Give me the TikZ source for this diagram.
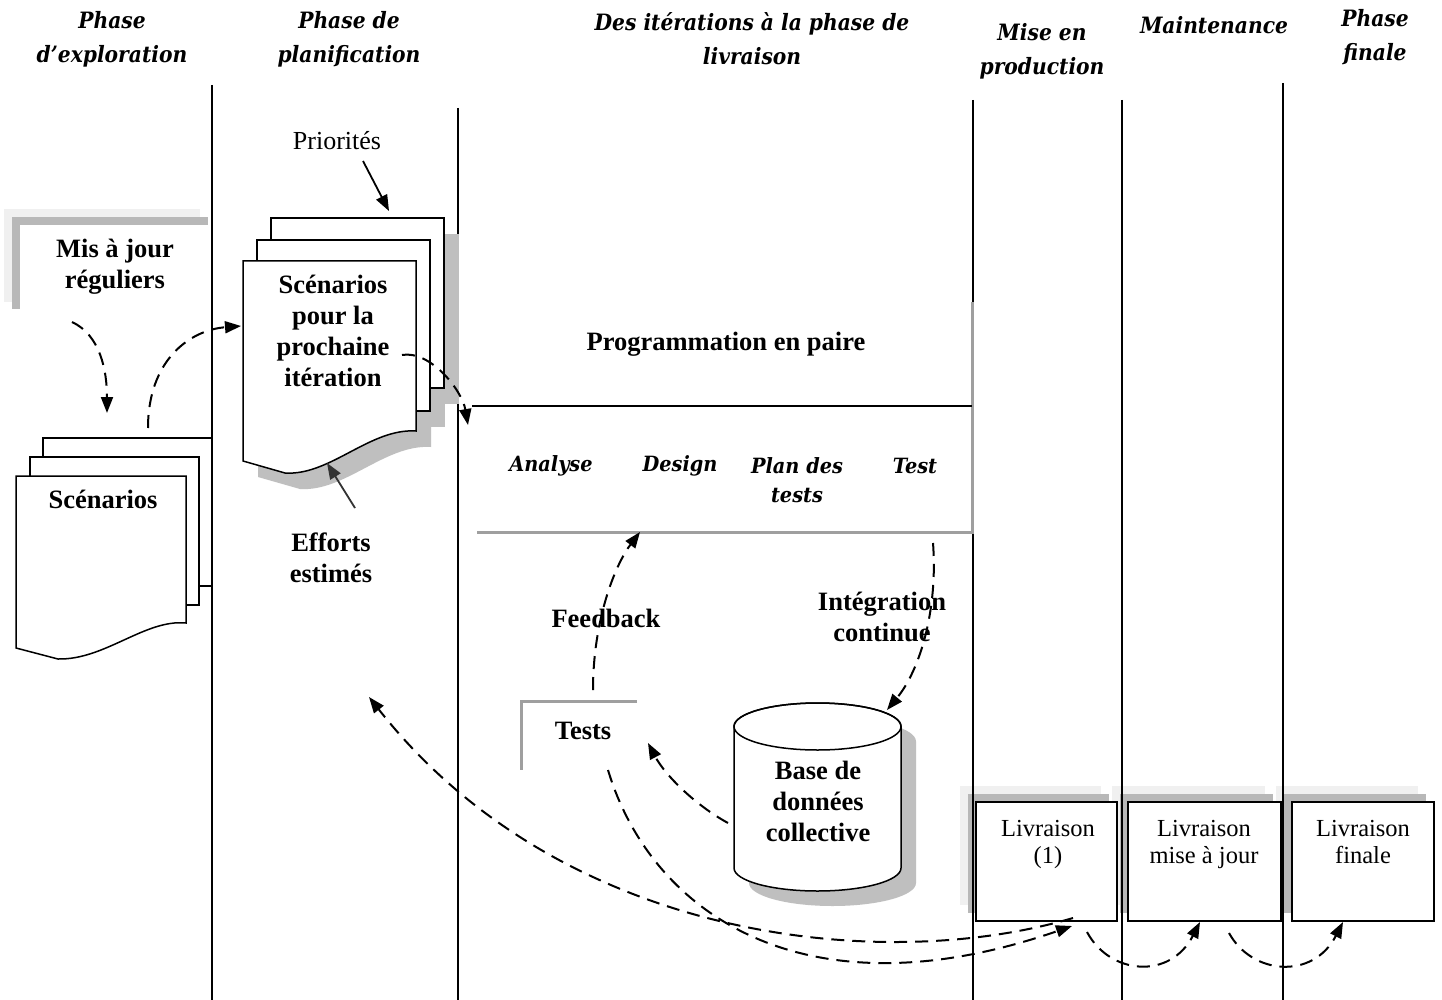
\documentclass[tikz,border=0pt]{standalone}
\usepackage{fontspec}
\setmainfont{Liberation Serif}
\newfontfamily\hdrfont[FakeStretch=0.9]{DejaVu Serif}
\newfontfamily\itfont[FakeStretch=0.92]{DejaVu Serif}
\usetikzlibrary{arrows.meta}
\begin{document}
\begin{tikzpicture}[x=1pt,y=-1pt,
  sepline/.style={line width=1.6pt, black},
  dasharrow/.style={line width=2pt, dash pattern=on 13pt off 8pt, -{Triangle[length=16pt,width=12pt]}},
  solidarrow/.style={line width=1.8pt, -{Triangle[length=16pt,width=12pt]}},
  hdr/.style={font=\hdrfont\bfseries\itshape\fontsize{22.5}{34}\selectfont, align=center, inner sep=0pt},
  itxt/.style={font=\itfont\bfseries\itshape\fontsize{21}{29}\selectfont, align=center, inner sep=0pt},
  btxt/.style={font=\bfseries\fontsize{26.5}{31}\selectfont, align=center, inner sep=0pt},
  rtxt/.style={font=\fontsize{26}{31}\selectfont, align=center, inner sep=0pt},
  ltxt/.style={font=\fontsize{24.5}{27}\selectfont, align=center, inner sep=0pt},
  page/.style={draw=black, line width=1.5pt, fill=white, line join=miter},
  pshadow/.style={fill=gray!50},
  lightsh/.style={fill=gray!12},
  darksh/.style={fill=gray!56},
  graybar/.style={draw=gray!75, line width=3pt},
  lbox/.style={draw=black, line width=1.5pt, fill=white, inner sep=0pt}
]
\useasboundingbox (0,0) rectangle (1442,1000);
\fill[white] (0,0) rectangle (1442,1000);

% ---- shaded label box "Mis a jour"
\fill[lightsh] (4,209) rectangle (200,302);
\fill[darksh] (12,217) rectangle (208,309);
\fill[white] (20,225) rectangle (216,317);

% ---- shadows of Livraison boxes
\fill[lightsh] (960,786) rectangle (1101,905);
\fill[darksh] (968,794) rectangle (1109,913);
\fill[lightsh] (1112,786) rectangle (1265,905);
\fill[darksh] (1120,794) rectangle (1273,913);
\fill[lightsh] (1276,786) rectangle (1418,905);
\fill[darksh] (1284,794) rectangle (1426,913);

% ---- phase separators
\coordinate (v1t) at (212,85);   \coordinate (v1b) at (212,1000);
\coordinate (v2t) at (458,108);  \coordinate (v2b) at (458,1000);
\coordinate (v3t) at (973,100);  \coordinate (v3b) at (973,1000);
\coordinate (v4t) at (1122,100); \coordinate (v4b) at (1122,1000);
\coordinate (v5t) at (1283,83);  \coordinate (v5b) at (1283,1000);
\draw[sepline] (v1t) -- (v1b);
\draw[sepline] (v2t) -- (v2b);
\draw[sepline] (v3t) -- (v3b);
\draw[sepline] (v4t) -- (v4b);
\draw[sepline] (v5t) -- (v5b);

% ---- headers
\node[hdr] (h1) at (112,39) {Phase\\d’exploration};
\node[hdr] (h2) at (349,39) {Phase de\\planification};
\node[hdr] (h3) at (752,39) {Des itérations à la phase de\\livraison};
\node[hdr] (h4) at (1042,51) {Mise en\\production};
\node[hdr] (h5) at (1214,25) {Maintenance};
\node[hdr] (h6) at (1375,37) {Phase\\finale};

% ---- Programmation en paire box
\fill[white] (462,302) rectangle (972,532);
\draw[graybar] (972,302) -- (972,532) -- (477,532);
\draw[line width=1.6pt] (472,406) -- (972,406);
\node[btxt] (prog) at (726,344) {Programmation en paire};
\node[itxt] (ana) at (551,466) {Analyse};
\node[itxt] (des) at (680,466) {Design};
\node[itxt] (plan) at (797,480) {Plan des\\tests};
\node[itxt] (tst) at (915,466) {Test};

% ---- Tests bracket
\draw[graybar] (637,701) -- (521,701) -- (521,770);
\node[btxt] (tests) at (583,731) {Tests};

% ---- left document stack (Scenarios)
\draw[page] (43,438) rectangle (212,586);
\draw[page] (30,457) rectangle (199,605);
\draw[page] (16,476) -- (186,476) -- (186,623) .. controls (145,619) and (105,660) .. (58,659) -- (16,648) -- cycle;
\node[btxt] (scen) at (103,499) {Scénarios};

% ---- planning document stack with shadow
\begin{scope}[shift={(15,16)}]
\fill[pshadow] (271,218) rectangle (444,388);
\fill[pshadow] (257,240) rectangle (430,411);
\fill[pshadow] (243,261) -- (416,261) -- (416,431) .. controls (370,428) and (330,476) .. (285,473) -- (243,461) -- cycle;
\end{scope}
\draw[page] (271,218) rectangle (444,388);
\draw[page] (257,240) rectangle (430,411);
\draw[page] (243,261) -- (416,261) -- (416,431) .. controls (370,428) and (330,476) .. (285,473) -- (243,461) -- cycle;
\node[btxt] (scen2) at (333,331) {Scénarios\\pour la\\prochaine\\itération};

\node[rtxt] (pri) at (337,141) {Priorités};
\node[btxt] (eff) at (331,558) {Efforts\\estimés};
\node[btxt] (maj) at (115,267) {Mis à jour\\réguliers};

% ---- database cylinder
\begin{scope}[shift={(15,15)}]
\fill[pshadow] (734,726.5) -- (734,868) arc[start angle=180,end angle=360,x radius=83.5pt,y radius=23pt] -- (901,726.5) arc[start angle=0,end angle=180,x radius=83.5pt,y radius=23.5pt] -- cycle;
\end{scope}
\draw[page] (734,726.5) -- (734,868) arc[start angle=180,end angle=360,x radius=83.5pt,y radius=23pt] -- (901,726.5) arc[start angle=0,end angle=180,x radius=83.5pt,y radius=23.5pt] -- cycle;
\draw[line width=1.5pt] (817.5,726.5) ellipse[x radius=83.5pt, y radius=23.5pt];
\node[btxt] (db) at (818,801) {Base de\\données\\collective};

% ---- Livraison boxes
\node[lbox, minimum width=141pt, minimum height=119pt] (liv1) at (1046.5,861.5) {};
\node[lbox, minimum width=153pt, minimum height=119pt] (liv2) at (1204.5,861.5) {};
\node[lbox, minimum width=142pt, minimum height=119pt] (liv3) at (1363,861.5) {};
\node[ltxt] (liv1t) at (1048,844) {Livraison\\(1)};
\node[ltxt] (liv2t) at (1204,844) {Livraison\\mise à jour};
\node[ltxt] (liv3t) at (1363,842) {Livraison\\finale};

% ---- labels on arrows
\node[btxt] (fb) at (606,618) {Feedback};
\node[btxt] (ic) at (882,617) {Intégration\\continue};

% ---- connector end points
\coordinate (priS) at (363,161);  \coordinate (priE) at (389,211);
\coordinate (effS) at (355,508);  \coordinate (effE) at (327,463);
\coordinate (majS) at (72,322);   \coordinate (majE) at (107,413);
\coordinate (scS) at (148,428);   \coordinate (scE) at (241,326);
\coordinate (itS) at (402,355);   \coordinate (itE) at (468,425);
\coordinate (fbS) at (593,690);   \coordinate (fbE) at (640,532);
\coordinate (icS) at (933,543);   \coordinate (icE) at (887,710);
\coordinate (dbS) at (728,823);   \coordinate (dbE) at (648,743);
\coordinate (l1S) at (1073,918);  \coordinate (l1E) at (369,697);
\coordinate (tsS) at (608,770);   \coordinate (tsE) at (1072,926);
\coordinate (l12S) at (1087,932); \coordinate (l12E) at (1200,922);
\coordinate (l23S) at (1229,933); \coordinate (l23E) at (1343,922);

% ---- connectors
\draw[solidarrow] (priS) -- (priE);
\draw[solidarrow, draw=black!80, fill=black!80] (effS) -- (effE);
\draw[dasharrow] (majS) .. controls (100,335) and (107,370) .. (majE);
\draw[dasharrow] (scS) .. controls (148,360) and (190,330) .. (scE);
\draw[dasharrow] (itS) .. controls (430,350) and (462,390) .. (itE);
\draw[dasharrow] (fbS) .. controls (593,620) and (615,565) .. (fbE);
\draw[dasharrow] (icS) .. controls (938,610) and (920,670) .. (icE);
\draw[dasharrow] (dbS) .. controls (695,805) and (665,775) .. (dbE);
\draw[dasharrow] (l1S) .. controls (880,975) and (560,940) .. (l1E);
\draw[dasharrow] (tsS) .. controls (650,910) and (800,1020) .. (tsE);
\draw[dasharrow] (l12S) .. controls (1110,975) and (1170,980) .. (l12E);
\draw[dasharrow] (l23S) .. controls (1252,975) and (1313,980) .. (l23E);
\end{tikzpicture}
\end{document}
